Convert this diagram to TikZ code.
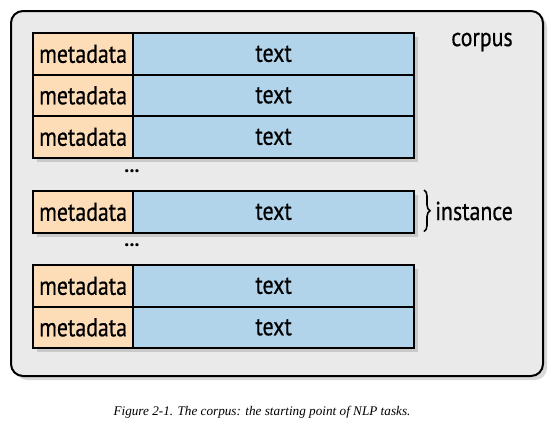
\documentclass[tikz,border=0pt]{standalone}
\usepackage{fontspec}
\setmainfont{Liberation Serif}
\newfontfamily\labelfont{PT Sans}[FakeStretch=0.84, FakeBold=0.6]
\newfontfamily\dotfont{PT Sans Bold}
\usetikzlibrary{shadows,decorations.pathreplacing}
\definecolor{meta}{HTML}{FCDDB8}
\definecolor{txt}{HTML}{B1D4EA}
\definecolor{corpusbg}{HTML}{EAEAEA}
\begin{document}
\begin{tikzpicture}[x=1pt,y=-1pt,
  lbl/.style={font=\labelfont\fontsize{26}{26}\selectfont, inner sep=0pt},
  cell/.style={lbl, draw=black, line width=2.2pt, minimum height=41.5pt, anchor=north west,
    drop shadow={opacity=0.3, shadow xshift=4pt, shadow yshift=-4pt}},
  metacell/.style={cell, fill=meta, minimum width=100pt},
  textcell/.style={cell, fill=txt, minimum width=281pt},
  dots/.style={font=\dotfont\fontsize{20}{20}\selectfont, inner sep=0pt},
  bracestyle/.style={decorate, decoration={brace, amplitude=6pt}, line width=1.6pt}]
\useasboundingbox (0,0) rectangle (560,424);
\node[draw=black, line width=2pt, rounded corners=12pt, fill=corpusbg, minimum width=532pt, minimum height=365pt, anchor=north west, inner sep=0pt,
  drop shadow={opacity=0.3, shadow xshift=4pt, shadow yshift=-4pt}] (corpus) at (10,10) {};
\node[lbl] (corpuslbl) at (482,42) {corpus};
% rows
\node[metacell] (m1) at (32,32) {metadata};
\node[textcell] (t1) at (132,32) {text};
\node[metacell] (m2) at (32,73.5) {metadata};
\node[textcell] (t2) at (132,73.5) {text};
\node[metacell] (m3) at (32,115) {metadata};
\node[textcell] (t3) at (132,115) {text};
\node[dots] (d1) at (132,171) {...};
\node[metacell] (m4) at (32,190) {metadata};
\node[textcell] (t4) at (132,190) {text};
\node[dots] (d2) at (132,245) {...};
\node[metacell] (m5) at (32,264) {metadata};
\node[textcell] (t5) at (132,264) {text};
\node[metacell] (m6) at (32,305.5) {metadata};
\node[textcell] (t6) at (132,305.5) {text};
% brace
\coordinate (b1) at (424,190);
\coordinate (b2) at (424,231.5);
\draw[bracestyle] (b1) -- (b2);
\node[lbl, anchor=west] (inst) at (435,211) {instance};
% caption
\node[font=\itshape\fontsize{13.2}{13.2}\selectfont, inner sep=0pt] (cap) at (262,412) {Figure 2-1. The corpus: the starting point of NLP tasks.};
\end{tikzpicture}
\end{document}
